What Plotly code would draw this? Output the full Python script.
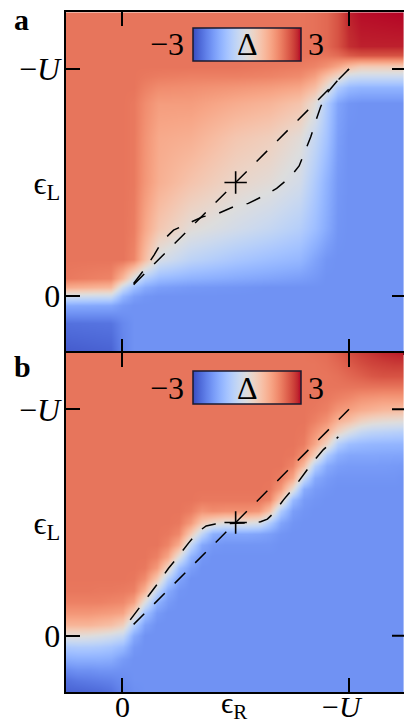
import plotly.graph_objects as go

W, H = 404, 721
SERIF = "\"Liberation Serif\", \"DejaVu Serif\", serif"

# cool-warm diverging colour table (33 nodes, blue -> grey -> red)
COOLWARM_RGB = [
    (59, 76, 192), (68, 90, 204), (77, 104, 215), (87, 117, 225), (98, 130, 234),
    (108, 142, 241), (119, 154, 247), (130, 165, 251), (141, 176, 254), (152, 185, 255),
    (163, 194, 255), (174, 201, 253), (184, 208, 249), (194, 213, 244), (204, 217, 238),
    (213, 219, 230), (221, 221, 221), (229, 216, 209), (236, 211, 197), (241, 204, 185),
    (245, 196, 173), (247, 187, 160), (247, 177, 148), (247, 166, 135), (244, 154, 123),
    (241, 141, 111), (236, 127, 99), (229, 112, 88), (222, 96, 77), (213, 80, 66),
    (203, 62, 56), (192, 40, 47), (180, 4, 38),
]
COLORSCALE = [[k / (len(COOLWARM_RGB) - 1), "rgb(%d,%d,%d)" % c]
              for k, c in enumerate(COOLWARM_RGB)]
DELTA_MIN, DELTA_MAX = -3, 3

# ---------------- panel a : Delta on a (-eps_R/U, -eps_L/U) grid ----------------
U_A = [-0.25, -0.05, 0.0, 0.05, 0.1, 0.16, 0.3, 0.5, 0.65, 0.78, 0.85, 0.9, 0.95, 1.0, 1.05, 1.25]
V_A = [-0.25, -0.12, -0.04, 0.0, 0.04, 0.08, 0.16, 0.3, 0.5, 0.7, 0.85, 0.92, 0.97, 1.01, 1.06, 1.1, 1.25]
DELTA_A = [
    [-2.8, -2.7, -2.2, -2, -2, -2, -2, -2, -2, -2, -2, -2, -2, -2, -2, -2],
    [-2.5, -2.45, -2.15, -2, -2, -2, -2, -2, -2, -2, -2, -2, -2, -2, -2, -2],
    [-1.6, -1.65, -1.9, -2, -2, -2, -2, -2, -2, -2, -2, -2, -2, -2, -2, -2],
    [-0.3, -0.4, -1.4, -1.8, -1.95, -2, -2, -2, -2, -2, -2, -2, -2, -2, -2, -2],
    [1.2, 1.0, -0.4, -1.2, -1.6, -1.8, -1.9, -1.95, -2, -2, -2, -2, -2, -2, -2, -2],
    [1.95, 1.8, 1.0, -0.1, -0.85, -1.25, -1.45, -1.6, -1.7, -1.8, -1.9, -2, -2, -2, -2, -2],
    [2, 2, 2, 1.8, 0.9, -0.15, -0.65, -1.0, -1.2, -1.35, -1.7, -1.95, -2, -2, -2, -2],
    [2, 2, 2, 1.9, 1.3, 0.7, 0.1, -0.25, -0.5, -0.8, -1.2, -1.6, -1.95, -2, -2, -2],
    [2, 2, 2, 1.95, 1.55, 1.15, 0.75, 0.3, 0.1, -0.25, -0.9, -1.45, -1.9, -2, -2, -2],
    [2, 2, 2, 1.95, 1.6, 1.25, 1.15, 0.7, 0.5, 0.1, -0.5, -1.1, -1.8, -2, -2, -2],
    [2, 2, 2, 1.95, 1.7, 1.45, 1.45, 1.2, 1.05, 0.75, 0.1, -0.9, -1.7, -1.95, -2, -2],
    [2, 2, 2, 2, 1.85, 1.7, 1.65, 1.55, 1.45, 1.3, 0.9, 0.1, -0.9, -1.3, -1.4, -1.4],
    [2, 2, 2, 2, 1.95, 1.9, 1.85, 1.85, 1.8, 1.7, 1.4, 0.8, 0.3, -0.3, -0.4, -0.4],
    [2, 2, 2, 2, 2, 2, 2, 2, 1.95, 1.9, 1.8, 1.6, 1.3, 0.9, 0.6, 0.6],
    [2, 2, 2, 2, 2, 2, 2, 2, 2, 2, 2, 2, 2.1, 2.3, 2.4, 2.4],
    [2, 2, 2, 2, 2, 2, 2, 2, 2, 2, 2.05, 2.15, 2.4, 2.75, 2.85, 2.85],
    [2, 2, 2, 2, 2, 2, 2, 2, 2, 2, 2.05, 2.15, 2.4, 2.85, 2.95, 3.0],
]

# dashed level lines of panel a
CURVE_A1_U = [0.05, 0.1, 0.14, 0.175, 0.226, 0.288, 0.355, 0.424, 0.49, 0.556, 0.623,
              0.681, 0.74, 0.78, 0.81, 0.831, 0.855, 0.875, 0.902, 0.95, 1.0]
CURVE_A1_V = [0.055, 0.12, 0.18, 0.24, 0.29, 0.32, 0.349, 0.364, 0.393, 0.408, 0.441,
              0.474, 0.523, 0.573, 0.643, 0.70, 0.775, 0.834, 0.893, 0.95, 1.0]
CURVE_A2_U = [0.05, 0.5, 1.0]
CURVE_A2_V = [0.05, 0.5, 1.0]

# ---------------- panel b ----------------
U_B = [-0.25, -0.2, -0.15, -0.1, -0.05, 0.0, 0.05, 0.1, 0.15, 0.2, 0.25, 0.3, 0.35, 0.4, 0.45,
       0.5, 0.55, 0.6, 0.65, 0.7, 0.75, 0.8, 0.85, 0.9, 0.95, 1.0, 1.05, 1.1, 1.15, 1.2, 1.25]
V_B = list(U_B)
DELTA_B = [
    [-2.7, -2.7, -2.65, -2.6, -2.5, -2.2, -2.05, -2, -2, -2, -2, -2, -2, -2, -2, -2, -2, -2, -2, -2, -2, -2, -2, -2, -2, -2, -2, -2, -2, -2, -2],
    [-2.5, -2.4, -2.35, -2.3, -2.25, -2.1, -2, -2, -2, -2, -2, -2, -2, -2, -2, -2, -2, -2, -2, -2, -2, -2, -2, -2, -2, -2, -2, -2, -2, -2, -2],
    [-2.1, -2, -2, -1.95, -1.95, -2, -2, -2, -2, -2, -2, -2, -2, -2, -2, -2, -2, -2, -2, -2, -2, -2, -2, -2, -2, -2, -2, -2, -2, -2, -2],
    [-1.55, -1.5, -1.5, -1.5, -1.55, -1.85, -2, -2, -2, -2, -2, -2, -2, -2, -2, -2, -2, -2, -2, -2, -2, -2, -2, -2, -2, -2, -2, -2, -2, -2, -2],
    [-0.95, -0.9, -0.9, -0.95, -1.05, -1.3, -1.9, -2, -2, -2, -2, -2, -2, -2, -2, -2, -2, -2, -2, -2, -2, -2, -2, -2, -2, -2, -2, -2, -2, -2, -2],
    [0.05, 0.05, 0, -0.1, -0.25, -0.5, -1.6, -2, -2, -2, -2, -2, -2, -2, -2, -2, -2, -2, -2, -2, -2, -2, -2, -2, -2, -2, -2, -2, -2, -2, -2],
    [1.05, 1.05, 1.05, 0.95, 0.85, 0.5, -0.8, -1.75, -2, -2, -2, -2, -2, -2, -2, -2, -2, -2, -2, -2, -2, -2, -2, -2, -2, -2, -2, -2, -2, -2, -2],
    [1.55, 1.55, 1.55, 1.5, 1.45, 1.35, 0.5, -1.1, -1.85, -2, -2, -2, -2, -2, -2, -2, -2, -2, -2, -2, -2, -2, -2, -2, -2, -2, -2, -2, -2, -2, -2],
    [1.85, 1.85, 1.85, 1.85, 1.8, 1.75, 1.4, 0, -1.4, -1.85, -2, -2, -2, -2, -2, -2, -2, -2, -2, -2, -2, -2, -2, -2, -2, -2, -2, -2, -2, -2, -2],
    [1.97, 1.97, 1.97, 1.95, 1.95, 1.92, 1.85, 1.1, -0.5, -1.6, -1.95, -2, -2, -2, -2, -2, -2, -2, -2, -2, -2, -2, -2, -2, -2, -2, -2, -2, -2, -2, -2],
    [2, 2, 2, 2, 2, 2, 1.97, 1.7, 0.7, -0.8, -1.7, -2, -2, -2, -2, -2, -2, -2, -2, -2, -2, -2, -2, -2, -2, -2, -2, -2, -2, -2, -2],
    [2, 2, 2, 2, 2, 2, 2, 1.95, 1.5, 0.35, -1.2, -1.8, -2, -2, -2, -2, -2, -2, -2, -2, -2, -2, -2, -2, -2, -2, -2, -2, -2, -2, -2],
    [2, 2, 2, 2, 2, 2, 2, 2, 1.85, 1.3, 0, -1.45, -1.9, -2, -2, -2, -2, -2, -2, -2, -2, -2, -2, -2, -2, -2, -2, -2, -2, -2, -2],
    [2, 2, 2, 2, 2, 2, 2, 2, 2, 1.8, 1.2, -0.55, -1.65, -1.9, -1.95, -1.95, -1.95, -1.95, -1.95, -2, -2, -2, -2, -2, -2, -2, -2, -2, -2, -2, -2],
    [2, 2, 2, 2, 2, 2, 2, 2, 2, 1.95, 1.75, 0.6, -0.6, -1.5, -1.65, -1.65, -1.65, -1.7, -1.8, -1.95, -2, -2, -2, -2, -2, -2, -2, -2, -2, -2, -2],
    [2, 2, 2, 2, 2, 2, 2, 2, 2, 2, 1.95, 1.5, 0.65, 0.25, 0, 0, 0, -0.15, -0.9, -1.7, -1.95, -2, -2, -2, -2, -2, -2, -2, -2, -2, -2],
    [2, 2, 2, 2, 2, 2, 2, 2, 2, 2, 2, 1.9, 1.6, 1.7, 1.65, 1.65, 1.65, 1.55, 0.8, -0.9, -1.8, -1.95, -2, -2, -2, -2, -2, -2, -2, -2, -2],
    [2, 2, 2, 2, 2, 2, 2, 2, 2, 2, 2, 2, 1.95, 1.95, 1.95, 1.95, 1.95, 1.95, 1.75, 0.55, -1.3, -1.85, -1.95, -2, -2, -2, -2, -2, -2, -2, -2],
    [2, 2, 2, 2, 2, 2, 2, 2, 2, 2, 2, 2, 2, 2, 2, 2, 2, 2, 1.97, 1.5, 0.15, -1.55, -1.85, -1.95, -2, -2, -2, -2, -2, -2, -2],
    [2, 2, 2, 2, 2, 2, 2, 2, 2, 2, 2, 2, 2, 2, 2, 2, 2, 2, 2, 1.9, 1.3, -0.4, -1.6, -1.85, -1.95, -1.95, -1.95, -1.95, -1.95, -1.95, -2],
    [2, 2, 2, 2, 2, 2, 2, 2, 2, 2, 2, 2, 2, 2, 2, 2, 2, 2, 2, 2, 1.8, 0.9, -0.8, -1.6, -1.8, -1.85, -1.85, -1.85, -1.85, -1.88, -1.9],
    [2, 2, 2, 2, 2, 2, 2, 2, 2, 2, 2, 2, 2, 2, 2, 2, 2, 2, 2, 2, 1.97, 1.65, 0.55, -0.9, -1.5, -1.65, -1.65, -1.65, -1.67, -1.68, -1.7],
    [2, 2, 2, 2, 2, 2, 2, 2, 2, 2, 2, 2, 2, 2, 2, 2, 2, 2, 2, 2, 2, 1.9, 1.3, 0.4, -0.8, -1.2, -1.3, -1.35, -1.37, -1.38, -1.4],
    [2, 2, 2, 2, 2, 2, 2, 2, 2, 2, 2, 2, 2, 2, 2, 2, 2, 2, 2, 2, 2, 1.97, 1.6, 1.15, 0.4, -0.1, -0.5, -0.65, -0.7, -0.75, -0.8],
    [2, 2, 2, 2, 2, 2, 2, 2, 2, 2, 2, 2, 2, 2, 2, 2, 2, 2, 2, 2, 2, 2, 1.85, 1.6, 1.1, 0.85, 0.45, 0.25, 0.15, 0.1, 0.05],
    [2, 2, 2, 2, 2, 2, 2, 2, 2, 2, 2, 2, 2, 2, 2, 2, 2, 2, 2, 2, 2, 2, 1.95, 1.85, 1.55, 1.4, 1.2, 1.1, 1.0, 0.95, 0.9],
    [2, 2, 2, 2, 2, 2, 2, 2, 2, 2, 2, 2, 2, 2, 2, 2, 2, 2, 2, 2, 2, 2, 2, 1.95, 1.85, 1.75, 1.6, 1.55, 1.5, 1.5, 1.5],
    [2, 2, 2, 2, 2, 2, 2, 2, 2, 2, 2, 2, 2, 2, 2, 2, 2, 2, 2, 2, 2, 2, 2, 2, 2, 2, 2, 2, 2, 2, 2],
    [2, 2, 2, 2, 2, 2, 2, 2, 2, 2, 2, 2, 2, 2, 2, 2, 2, 2, 2, 2, 2, 2, 2, 2, 2.05, 2.15, 2.25, 2.35, 2.4, 2.4, 2.4],
    [2, 2, 2, 2, 2, 2, 2, 2, 2, 2, 2, 2, 2, 2, 2, 2, 2, 2, 2, 2, 2, 2, 2, 2.05, 2.15, 2.3, 2.45, 2.55, 2.6, 2.65, 2.65],
    [2, 2, 2, 2, 2, 2, 2, 2, 2, 2, 2, 2, 2, 2, 2, 2, 2, 2, 2, 2, 2, 2, 2.05, 2.1, 2.25, 2.45, 2.6, 2.7, 2.8, 2.85, 2.9],
]

CURVE_B1_U = [0.035, 0.1, 0.16, 0.204, 0.241, 0.292, 0.336, 0.37, 0.41, 0.5, 0.58, 0.61,
              0.64, 0.667, 0.711, 0.762, 0.8, 0.843, 0.887, 0.92, 0.953]
CURVE_B1_V = [0.07, 0.155, 0.235, 0.298, 0.342, 0.409, 0.46, 0.485, 0.493, 0.497, 0.498, 0.503,
              0.515, 0.541, 0.6, 0.66, 0.711, 0.77, 0.822, 0.852, 0.878]
CURVE_B2_U = [0.05, 0.5, 1.0]
CURVE_B2_V = [0.05, 0.5, 1.0]

CENTER_U, CENTER_V = 0.5, 0.5

X_TICKS = [0, 0.5, 1]
X_TICKTEXT = ["0", "\u03f5<sub>R</sub>", "\u2212<i>U</i>"]
Y_TICKS = [0, 0.5, 1]
Y_TICKTEXT = ["0", "\u03f5<sub>L</sub>", "\u2212<i>U</i>"]
MARK_TICKS = [0, 1]

# ---------------- geometry (pixels in a 404 x 721 page) ----------------
def fx(p):
    return p / W


def fy(p):
    return 1 - p / H


X_LEFT_PX = 65.6
X_RANGE = [-0.25, 1.2426]
PANEL_A_PX = (12.25, 352.7)
PANEL_B_PX = (352.7, 692.3)

fig = go.Figure()

dash_line = dict(color="black", width=1.5, dash="15px,14px")

for (u, v, z, xa, ya, cax, curves) in [
    (U_A, V_A, DELTA_A, "x", "y", "coloraxis",
     [(CURVE_A1_U, CURVE_A1_V), (CURVE_A2_U, CURVE_A2_V)]),
    (U_B, V_B, DELTA_B, "x2", "y2", "coloraxis2",
     [(CURVE_B1_U, CURVE_B1_V), (CURVE_B2_U, CURVE_B2_V)]),
]:
    fig.add_trace(go.Heatmap(x=u, y=v, z=z, zsmooth="best", coloraxis=cax,
                             xaxis=xa, yaxis=ya, hoverinfo="skip"))
    for cu, cv in curves:
        fig.add_trace(go.Scatter(x=cu, y=cv, mode="lines", line=dash_line,
                                 xaxis=xa, yaxis=ya, hoverinfo="skip"))
    fig.add_trace(go.Scatter(x=[CENTER_U], y=[CENTER_V], mode="markers",
                             marker=dict(symbol="cross-thin", size=16,
                                         line=dict(color="black", width=1.6)),
                             xaxis=xa, yaxis=ya, hoverinfo="skip"))

tick_font = dict(family=SERIF, size=32, color="black")
minor_ticks = dict(tickmode="array", tickvals=MARK_TICKS, ticks="inside", ticklen=14,
                   tickwidth=2, tickcolor="black", showgrid=False)
axis_common = dict(showline=True, linecolor="black", linewidth=2, ticks="",
                   showgrid=False, zeroline=False, tickmode="array",
                   minor=minor_ticks, tickfont=tick_font, fixedrange=True)


def colorbar(top_px):
    return dict(orientation="h", lenmode="pixels", len=108, thickness=33,
                x=fx(193), xanchor="left", y=fy(top_px), yanchor="top",
                xpad=0, ypad=0, outlinewidth=1.5, outlinecolor="#1a1a2e",
                showticklabels=False, ticks="")


fig.update_layout(
    width=W, height=H,
    margin=dict(l=0, r=0, t=0, b=0, autoexpand=False),
    paper_bgcolor="white", plot_bgcolor="white",
    showlegend=False, hovermode=False,
    xaxis=dict(axis_common, domain=[fx(X_LEFT_PX), 1], range=X_RANGE, anchor="y",
               mirror="ticks", tickvals=X_TICKS, showticklabels=False),
    yaxis=dict(axis_common, domain=[fy(PANEL_A_PX[1]), fy(PANEL_A_PX[0])],
               range=[-0.25, 1.25], anchor="x", tickvals=Y_TICKS, ticktext=Y_TICKTEXT,
               ticklabelstandoff=-3),
    xaxis2=dict(axis_common, domain=[fx(X_LEFT_PX), 1], range=X_RANGE, anchor="y2",
                mirror="ticks", tickvals=X_TICKS, showticklabels=False),
    yaxis2=dict(axis_common, domain=[fy(PANEL_B_PX[1]), fy(PANEL_B_PX[0])],
                range=[-0.25, 1.25], anchor="x2", tickvals=Y_TICKS, ticktext=Y_TICKTEXT,
                ticklabelstandoff=-3),
    coloraxis=dict(colorscale=COLORSCALE, cmin=DELTA_MIN, cmax=DELTA_MAX,
                   colorbar=colorbar(28)),
    coloraxis2=dict(colorscale=COLORSCALE, cmin=DELTA_MIN, cmax=DELTA_MAX,
                    colorbar=colorbar(371)),
)

# bottom tick labels of panel b, written as annotations on the data x positions
x_label_font = dict(family=SERIF, size=30, color="black")
X_LABEL_TOP_PX = [690.0, 686.0, 690.0]
X_LABEL_SHIFT = [0, -2, -7]
for val, txt, top, shift in zip(X_TICKS, X_TICKTEXT, X_LABEL_TOP_PX, X_LABEL_SHIFT):
    fig.add_annotation(text=txt, x=val, xref="x2", y=fy(top), yref="paper",
                       xanchor="center", yanchor="top", xshift=shift, showarrow=False,
                       font=x_label_font, borderpad=0, borderwidth=0)

# inward ticks on the right-hand edge of both panels
for yref in ("y", "y2"):
    for val in MARK_TICKS:
        fig.add_shape(type="line", xref="paper", xsizemode="pixel", xanchor=1,
                      x0=-12, x1=0, yref=yref, y0=val, y1=val,
                      line=dict(color="black", width=2))

label_font = dict(family=SERIF, size=32, color="black")
for cy in (44.5, 387.5):
    fig.add_annotation(text="\u2212%d" % abs(DELTA_MIN), x=fx(186), y=fy(cy), xref="paper",
                       yref="paper", xanchor="right", yanchor="middle", showarrow=False,
                       font=label_font)
    fig.add_annotation(text="%d" % DELTA_MAX, x=fx(306), y=fy(cy), xref="paper",
                       yref="paper", xanchor="left", yanchor="middle", showarrow=False,
                       font=label_font)
    fig.add_annotation(text="\u0394", x=fx(247), y=fy(cy), xref="paper", yref="paper",
                       xanchor="center", yanchor="middle", showarrow=False,
                       font=label_font)

panel_font = dict(family=SERIF, size=30, color="black")
for txt, cy in (("a", 19.5), ("b", 366.5)):
    fig.add_annotation(text="<b>%s</b>" % txt, x=fx(12), y=fy(cy), xref="paper",
                       yref="paper", xanchor="left", yanchor="middle", showarrow=False,
                       font=panel_font)

fig.write_html("out.html", config={"displayModeBar": False, "staticPlot": True})
